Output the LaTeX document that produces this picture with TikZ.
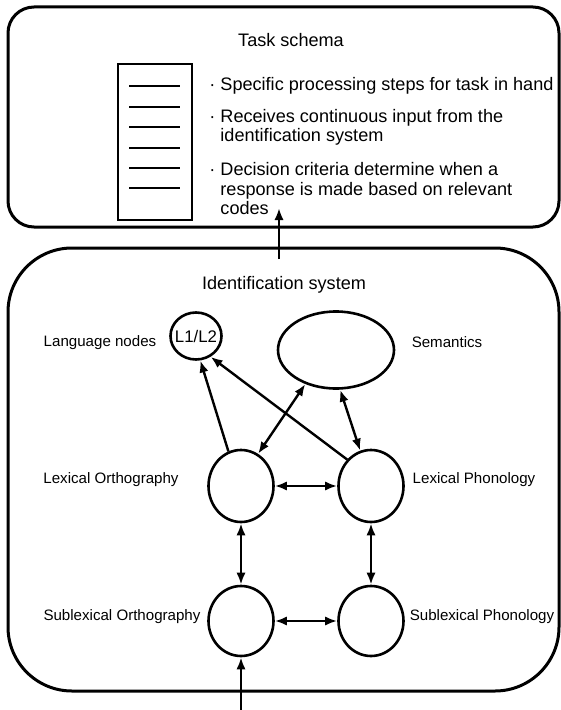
\documentclass[tikz,border=0pt]{standalone}
\usepackage{fontspec}
\setmainfont{Liberation Sans}
\usetikzlibrary{arrows.meta,shapes.geometric}

\begin{document}
\begin{tikzpicture}[x=0.5bp,y=-0.5bp,
        >={Latex[length=6bp,width=4.6bp]},
        panel/.style={line width=1.5bp,rounded corners=#1},
        blob/.style={draw,ellipse,line width=1.3bp,inner sep=0pt},
        big/.style={font=\fontsize{9.05bp}{9.75bp}\selectfont,inner sep=0pt},
        small/.style={font=\fontsize{7.55bp}{9bp}\selectfont,inner sep=0pt},
        link/.style={line width=1.2bp}]
        \useasboundingbox (0,0) rectangle (561,710);
        % task schema box
        \draw[panel=13bp] (8,7) rectangle (559,227);
        \node[big] (task) at (291,40) {Task schema};
        \draw[line width=1.1bp] (118,64) rectangle (192,220);
        \foreach \y in {86,107,127,148,168,188}
            \draw[line width=1.2bp] (129,\y) -- (180,\y);
        \node[big,anchor=west] (steps) at (209,86) {· Specific processing steps for task in hand};
        \node[big,anchor=west,align=left] (input) at (209,127.5) {· Receives continuous input from the\\\phantom{· }identification system};
        \node[big,anchor=west,align=left] (criteria) at (209,189) {· Decision criteria determine when a\\\phantom{· }response is made based on relevant\\\phantom{· }codes};
        % identification system box
        \draw[panel=32bp] (8,248) rectangle (559,691);
        \node[big] (ident) at (284,285) {Identification system};
        \node[blob,minimum width=25.5bp,minimum height=23.5bp,font=\fontsize{8.4bp}{9bp}\selectfont] (l1l2) at (196,336) {\makebox[0pt]{L1/L2}};
        \node[blob,minimum width=58bp,minimum height=38.5bp] (sem) at (336,350) {};
        \node[blob,minimum width=32.5bp,minimum height=36bp] (lexorth) at (241,486) {};
        \node[blob,minimum width=32.5bp,minimum height=36bp] (lexphon) at (371,486) {};
        \node[blob,minimum width=32.5bp,minimum height=35bp] (suborth) at (241,621) {};
        \node[blob,minimum width=32.5bp,minimum height=35bp] (subphon) at (371,621) {};
        \node[small] (langlab) at (100,343) {Language nodes};
        \node[small] (semlab) at (447,342) {Semantics};
        \node[small] (lexorthlab) at (111,480) {Lexical Orthography};
        \node[small] (lexphonlab) at (474,480) {Lexical Phonology};
        \node[small] (suborthlab) at (122,617) {Sublexical Orthography};
        \node[small] (subphonlab) at (482,617) {Sublexical Phonology};
        % connectors
        \coordinate (idtop) at (279,259);
        \coordinate (tasktop) at (279,208);
        \coordinate (print) at (241,710);
        \draw[link,->] (idtop) -- (tasktop);
        \draw[link,->] (lexorth.110) -- (l1l2.-80);
        \draw[link,->] (lexphon.132) -- (l1l2.-55);
        \draw[link,<->] (lexorth.62) -- (sem.228);
        \draw[link,<->] (lexphon.107) -- (sem.-84);
        \draw[link,<->] (lexorth) -- (lexphon);
        \draw[link,<->] (suborth) -- (subphon);
        \draw[link,<->] (lexorth) -- (suborth);
        \draw[link,<->] (lexphon) -- (subphon);
        \draw[link,->] (print) -- (suborth);
    \end{tikzpicture}
\end{document}
